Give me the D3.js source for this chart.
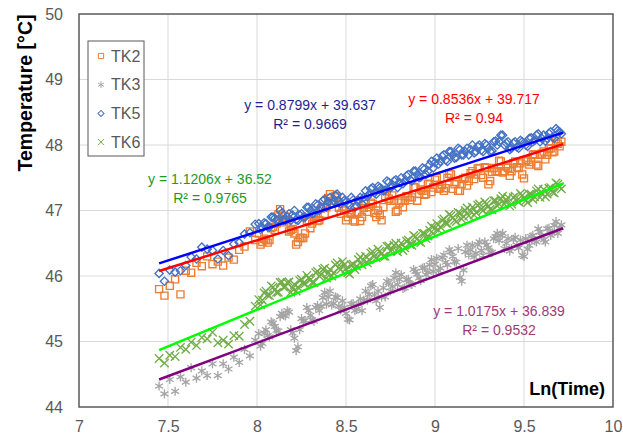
<!DOCTYPE html>
<html>
<head>
<meta charset="utf-8">
<script src="https://cdn.jsdelivr.net/npm/d3@7"></script>
<style>
	body { margin: 0; background: #fff; }
	svg { display: block; font-family: "Liberation Sans", Arial, sans-serif; }
</style>
</head>
<body>
<svg width="623" height="441"></svg>
<script>
// ln(time) sample positions, shared by all four probes
var lnTime = [
	7.45, 7.48, 7.51, 7.54, 7.57, 7.60, 7.63, 7.66, 7.69, 7.72, 7.75, 7.78, 7.81, 7.84, 7.87, 7.90, 7.93, 7.96, 7.99,
	8.01, 8.03, 8.05, 8.07, 8.09, 8.11, 8.13, 8.15, 8.17, 8.19,
	8.21, 8.23, 8.25, 8.27, 8.29, 8.31, 8.33, 8.35, 8.37, 8.39,
	8.41, 8.43, 8.45, 8.47, 8.49, 8.51, 8.53, 8.55, 8.57, 8.59,
	8.61, 8.63, 8.65, 8.67, 8.69, 8.71, 8.73, 8.75, 8.77, 8.79,
	8.81, 8.83, 8.85, 8.87, 8.89, 8.91, 8.93, 8.95, 8.97, 8.99,
	9.01, 9.03, 9.05, 9.07, 9.09, 9.11, 9.13, 9.15, 9.17, 9.19,
	9.21, 9.23, 9.25, 9.27, 9.29, 9.31, 9.33, 9.35, 9.37, 9.39,
	9.41, 9.43, 9.45, 9.47, 9.49, 9.51, 9.53, 9.55, 9.57, 9.59,
	9.61, 9.63, 9.65, 9.67, 9.69, 9.71
];
// later samples come more often, second set in between
var lnTimeB = [
	8.02, 8.04, 8.06, 8.08, 8.10, 8.12, 8.14, 8.16, 8.18, 8.20,
	8.22, 8.24, 8.26, 8.28, 8.30, 8.32, 8.34, 8.36, 8.38, 8.40,
	8.42, 8.44, 8.46, 8.48, 8.50, 8.52, 8.54, 8.56, 8.58, 8.60,
	8.62, 8.64, 8.66, 8.68, 8.70, 8.72, 8.74, 8.76, 8.78, 8.80,
	8.82, 8.84, 8.86, 8.88, 8.90, 8.92, 8.94, 8.96, 8.98, 9.00,
	9.02, 9.04, 9.06, 9.08, 9.10, 9.12, 9.14, 9.16, 9.18, 9.20,
	9.22, 9.24, 9.26, 9.28, 9.30, 9.32, 9.34, 9.36, 9.38, 9.40,
	9.42, 9.44, 9.46, 9.48, 9.50, 9.52, 9.54, 9.56, 9.58, 9.60,
	9.62, 9.64, 9.66, 9.68, 9.70
];

var tk2 = [
	45.80, 45.70, 45.85, 45.95, 45.72, 46.08, 46.05, 46.20, 46.15, 46.30, 46.18, 46.22, 46.16, 46.28, 46.25, 46.40, 46.45, 46.68, 46.55,
	46.65, 46.52, 46.55, 46.55, 46.75, 46.80, 47.02, 46.82, 46.85, 46.70,
	46.65, 46.52, 46.58, 46.65, 46.85, 46.80, 46.92, 46.85, 47.05, 47.05,
	47.25, 47.15, 47.20, 46.95, 47.00, 46.90, 46.95, 46.83, 46.97, 46.90,
	47.10, 47.05, 47.10, 46.90, 46.93, 47.05, 47.30, 47.15, 47.15, 47.00,
	47.15, 47.15, 47.20, 47.20, 47.35, 47.25, 47.30, 47.25, 47.40, 47.35,
	47.50, 47.35, 47.30, 47.50, 47.55, 47.40, 47.30, 47.40, 47.50, 47.45,
	47.60, 47.55, 47.65, 47.50, 47.65, 47.45, 47.65, 47.60, 47.75, 47.60,
	47.65, 47.60, 47.75, 47.65, 47.55, 47.75, 47.70, 47.85, 47.70, 47.85,
	47.90, 47.85, 47.95, 47.90, 48.02, 48.05
];
var tk2b = [
	46.48, 46.57, 46.51, 46.73, 46.70, 46.94, 46.86, 46.91, 46.68, 46.72,
	46.48, 46.58, 46.58, 46.83, 46.73, 46.90, 46.84, 47.03, 46.95, 47.19,
	47.11, 47.22, 47.04, 47.06, 46.85, 46.97, 46.85, 46.98, 46.84, 47.04,
	46.98, 47.12, 46.96, 47.00, 46.85, 47.22, 47.18, 47.23, 46.98, 47.12,
	47.05, 47.22, 47.16, 47.36, 47.15, 47.32, 47.24, 47.41, 47.28, 47.47,
	47.33, 47.39, 47.34, 47.56, 47.33, 47.43, 47.30, 47.48, 47.38, 47.57,
	47.48, 47.64, 47.54, 47.66, 47.40, 47.59, 47.59, 47.76, 47.58, 47.67,
	47.53, 47.72, 47.66, 47.72, 47.49, 47.77, 47.74, 47.86, 47.68, 47.87,
	47.78, 47.94, 47.89, 48.06, 47.98
];

var tk3 = [
	44.32, 44.20, 44.42, 44.24, 44.46, 44.38, 44.60, 44.44, 44.55, 44.48, 44.66, 44.48, 44.66, 44.58, 44.76, 44.68, 44.88, 44.78, 45.02,
	45.12, 44.97, 45.18, 45.07, 45.28, 45.17, 45.38, 45.40, 45.47, 45.18,
	45.05, 44.92, 45.35, 45.32, 45.47, 45.33, 45.52, 45.47, 45.67, 45.57,
	45.77, 45.58, 45.67, 45.48, 45.52, 45.34, 45.57, 45.47, 45.57, 45.47,
	45.77, 45.72, 45.87, 45.62, 45.52, 45.82, 45.92, 45.77, 45.97, 45.87,
	46.02, 45.82, 45.95, 45.87, 46.07, 45.97, 46.12, 46.02, 46.17, 46.07,
	46.27, 46.12, 46.32, 46.17, 46.37, 46.22, 46.42, 45.92, 46.37, 46.32,
	46.47, 46.35, 46.52, 46.32, 46.47, 46.37, 46.57, 46.65, 46.62, 46.42,
	46.57, 46.42, 46.59, 46.43, 46.32, 46.57, 46.47, 46.62, 46.52, 46.67,
	46.55, 46.72, 46.62, 46.77, 46.65, 46.78
];
var tk3b = [
	44.93, 45.13, 45.09, 45.30, 45.23, 45.16, 45.43, 45.39, 45.45, 45.13,
	44.86, 45.18, 45.31, 45.52, 45.40, 45.31, 45.55, 45.54, 45.75, 45.68,
	45.56, 45.68, 45.54, 45.62, 45.43, 45.33, 45.58, 45.49, 45.65, 45.63,
	45.63, 45.85, 45.71, 45.77, 45.68, 45.68, 45.90, 45.84, 46.05, 45.95,
	45.81, 45.94, 45.88, 46.10, 46.03, 45.93, 46.13, 46.06, 46.25, 46.18,
	46.08, 46.28, 46.21, 46.40, 46.30, 46.21, 45.98, 46.09, 46.47, 46.40,
	46.29, 46.48, 46.39, 46.52, 46.43, 46.36, 46.60, 46.54, 46.65, 46.50,
	46.38, 46.56, 46.47, 46.55, 46.30, 46.41, 46.60, 46.54, 46.72, 46.61,
	46.52, 46.73, 46.66, 46.83, 46.74
];

var tk5 = [
	46.04, 45.92, 46.09, 46.06, 46.08, 46.16, 46.29, 46.26, 46.44, 46.41, 46.39, 46.26, 46.39, 46.31, 46.49, 46.51, 46.64, 46.66, 46.79,
	46.80, 46.74, 46.80, 46.75, 46.90, 46.85, 47.00, 46.85, 46.90, 46.85,
	47.00, 46.85, 46.95, 46.90, 47.05, 46.95, 47.10, 47.00, 47.15, 47.05,
	47.20, 47.15, 47.25, 47.10, 47.15, 47.10, 47.20, 47.05, 47.15, 47.10,
	47.30, 47.25, 47.35, 47.25, 47.35, 47.30, 47.45, 47.35, 47.45, 47.35,
	47.50, 47.45, 47.55, 47.45, 47.60, 47.50, 47.65, 47.55, 47.70, 47.65,
	47.80, 47.75, 47.85, 47.75, 47.90, 47.80, 47.95, 47.85, 47.90, 47.85,
	48.00, 47.90, 48.00, 47.90, 48.00, 47.90, 48.05, 48.00, 48.15, 48.00,
	48.05, 47.95, 48.05, 47.95, 48.05, 48.00, 48.10, 48.05, 48.15, 48.05,
	48.15, 48.10, 48.20, 48.10, 48.22, 48.17
];
var tk5b = [
	46.71, 46.81, 46.75, 46.90, 46.88, 46.86, 46.96, 46.85, 46.95, 46.93,
	46.86, 46.93, 46.90, 47.05, 47.00, 46.96, 47.08, 47.05, 47.17, 47.13,
	47.11, 47.23, 47.15, 47.20, 47.13, 47.08, 47.16, 47.07, 47.20, 47.20,
	47.21, 47.33, 47.27, 47.37, 47.33, 47.31, 47.43, 47.37, 47.47, 47.43,
	47.41, 47.53, 47.47, 47.60, 47.55, 47.51, 47.63, 47.60, 47.75, 47.73,
	47.71, 47.83, 47.77, 47.90, 47.85, 47.81, 47.93, 47.85, 47.95, 47.93,
	47.88, 47.98, 47.92, 48.02, 47.95, 47.91, 48.06, 48.05, 48.15, 48.03,
	47.93, 48.03, 47.97, 48.07, 48.03, 47.98, 48.11, 48.07, 48.17, 48.10,
	48.06, 48.18, 48.12, 48.25, 48.20
];

var tk6 = [
	44.74, 44.67, 44.79, 44.77, 44.91, 44.88, 44.99, 44.94, 45.06, 45.04, 45.14, 44.98, 45.02, 44.96, 45.09, 45.08, 45.26, 45.31, 45.54,
	45.64, 45.63, 45.77, 45.70, 45.83, 45.75, 45.90, 45.83, 45.90, 45.75,
	45.87, 45.83, 45.95, 45.88, 45.97, 45.90, 46.05, 46.00, 46.10, 45.97,
	46.10, 46.05, 46.20, 46.10, 46.17, 46.05, 46.17, 46.10, 46.25, 46.17,
	46.30, 46.25, 46.37, 46.28, 46.38, 46.30, 46.45, 46.38, 46.47, 46.37,
	46.50, 46.43, 46.55, 46.47, 46.60, 46.53, 46.65, 46.57, 46.70, 46.65,
	46.80, 46.75, 46.87, 46.80, 46.92, 46.85, 46.97, 46.87, 47.00, 46.92,
	47.05, 46.97, 47.10, 47.00, 47.10, 47.02, 47.15, 47.07, 47.18, 47.10,
	47.20, 47.10, 47.22, 47.13, 47.23, 47.15, 47.25, 47.17, 47.30, 47.20,
	47.32, 47.25, 47.35, 47.27, 47.40, 47.33
];
var tk6b = [
	45.56, 45.74, 45.71, 45.85, 45.79, 45.75, 45.91, 45.84, 45.91, 45.81,
	45.77, 45.93, 45.89, 46.01, 45.94, 45.90, 46.07, 46.02, 46.12, 46.04,
	46.00, 46.17, 46.12, 46.22, 46.11, 46.03, 46.18, 46.15, 46.29, 46.24,
	46.20, 46.35, 46.30, 46.41, 46.34, 46.30, 46.46, 46.40, 46.50, 46.44,
	46.39, 46.53, 46.48, 46.62, 46.57, 46.51, 46.65, 46.61, 46.76, 46.73,
	46.70, 46.85, 46.81, 46.94, 46.89, 46.83, 46.96, 46.91, 47.04, 46.99,
	46.93, 47.08, 47.02, 47.13, 47.06, 47.01, 47.15, 47.10, 47.22, 47.15,
	47.07, 47.20, 47.15, 47.26, 47.19, 47.12, 47.25, 47.21, 47.33, 47.26,
	47.21, 47.34, 47.28, 47.42, 47.36
];

var seriesNames = ["TK2", "TK3", "TK5", "TK6"];
var seriesValues = [tk2, tk3, tk5, tk6];
var seriesValuesB = [tk2b, tk3b, tk5b, tk6b];
var markerColors = ["#ED7D31", "#A5A5A5", "#4472C4", "#70AD47"];

// linear trend fits as printed on the chart
var fitSlopes = [0.8536, 1.0175, 0.8799, 1.1206];
var fitIntercepts = [39.717, 36.839, 39.637, 36.52];
var fitR2 = ["0.94", "0.9532", "0.9669", "0.9765"];
var fitColors = ["#FF0000", "#800080", "#0000FF", "#00FF00"];
var labelColors = ["#FF0000", "#9E3A78", "#1F1F8F", "#1E9A1E"];

var xTicks = [7, 7.5, 8, 8.5, 9, 9.5, 10];
var yTicks = [44, 45, 46, 47, 48, 49, 50];

var svg = d3.select("svg");

var x = d3.scaleLinear().domain([7, 10]).range([79, 613]);
var y = d3.scaleLinear().domain([44, 50]).range([407, 14]);

// grid
svg.append("g")
	.selectAll("line")
	.data(xTicks.slice(1, -1))
	.enter().append("line")
	.attr("x1", function(d) { return x(d); })
	.attr("x2", function(d) { return x(d); })
	.attr("y1", y(50)).attr("y2", y(44))
	.attr("stroke", "#D9D9D9");

svg.append("g")
	.selectAll("line")
	.data(yTicks.slice(1, -1))
	.enter().append("line")
	.attr("x1", x(7)).attr("x2", x(10))
	.attr("y1", function(d) { return y(d); })
	.attr("y2", function(d) { return y(d); })
	.attr("stroke", "#D9D9D9");

// axes: only the tick labels are visible
var xAxis = svg.append("g")
	.attr("transform", "translate(0," + y(44) + ")")
	.call(d3.axisBottom(x).tickValues(xTicks).tickSize(0).tickPadding(14).tickFormat(d3.format("")));
var yAxis = svg.append("g")
	.attr("transform", "translate(" + x(7) + ",0)")
	.call(d3.axisLeft(y).tickValues(yTicks).tickSize(0).tickPadding(16).tickFormat(d3.format("d")));
[xAxis, yAxis].forEach(function(a) {
	a.select(".domain").remove();
	a.selectAll("text")
		.attr("fill", "#595959")
		.style("font-size", "16px")
		.style("font-family", "Liberation Sans, Arial, sans-serif");
});

// scatter points (TK5 diamonds are squares turned by 45 degrees)
var symbols = [d3.symbolSquare, d3.symbolAsterisk, d3.symbolSquare, d3.symbolTimes];
var sizes = [50, 58, 34, 48];
var turns = [0, 0, 45, 0];

seriesValues.forEach(function(vals, i) {
	var pts = vals.map(function(v, j) { return [lnTime[j], v]; })
		.concat(seriesValuesB[i].map(function(v, j) { return [lnTimeB[j], v]; }));
	var sym = d3.symbol().type(symbols[i]).size(sizes[i]);
	svg.append("g")
		.selectAll("path")
		.data(pts)
		.enter().append("path")
		.attr("d", sym)
		.attr("transform", function(d) { return "translate(" + x(d[0]) + "," + y(d[1]) + ") rotate(" + turns[i] + ")"; })
		.attr("fill", "none")
		.attr("stroke", markerColors[i])
		.attr("stroke-width", 1.35);
});

// trend lines
var xMin = d3.min(lnTime), xMax = 9.72;
fitSlopes.forEach(function(m, i) {
	svg.append("line")
		.attr("x1", x(xMin)).attr("y1", y(m * xMin + fitIntercepts[i]))
		.attr("x2", x(xMax)).attr("y2", y(m * xMax + fitIntercepts[i]))
		.attr("stroke", fitColors[i])
		.attr("stroke-width", 2.5);
});

// equation labels
var labelPos = [[474, 104], [499, 316], [310, 110], [210, 184]];
fitSlopes.forEach(function(m, i) {
	var t = svg.append("text")
		.attr("text-anchor", "middle")
		.attr("fill", labelColors[i])
		.style("font-size", "14px");
	t.append("tspan")
		.attr("x", labelPos[i][0]).attr("y", labelPos[i][1])
		.text("y = " + m + "x + " + fitIntercepts[i]);
	t.append("tspan")
		.attr("x", labelPos[i][0]).attr("y", labelPos[i][1] + 18.5)
		.text("R² = " + fitR2[i]);
});

// plot frame
svg.append("rect")
	.attr("x", x(7)).attr("y", y(50))
	.attr("width", x(10) - x(7)).attr("height", y(44) - y(50))
	.attr("fill", "none")
	.attr("stroke", "#595959")
	.attr("stroke-width", 1.5);

// axis titles
svg.append("text")
	.attr("transform", "translate(32,93) rotate(-90)")
	.attr("text-anchor", "middle")
	.attr("font-weight", "bold")
	.style("font-size", "19.5px")
	.text("Temperature [°C]");

svg.append("text")
	.attr("x", 605).attr("y", 395)
	.attr("text-anchor", "end")
	.attr("font-weight", "bold")
	.style("font-size", "18px")
	.text("Ln(Time)");

// legend
var legend = svg.append("g");
legend.append("rect")
	.attr("x", 88).attr("y", 41)
	.attr("width", 56).attr("height", 115)
	.attr("fill", "#fff")
	.attr("stroke", "#595959")
	.attr("stroke-width", 1);

var item = legend.selectAll("g.item")
	.data(seriesNames)
	.enter().append("g")
	.attr("class", "item")
	.attr("transform", function(d, i) { return "translate(0," + (56 + i * 28.7) + ")"; });

item.append("path")
	.attr("transform", function(d, i) { return "translate(101,0) rotate(" + turns[i] + ")"; })
	.attr("d", function(d, i) { return d3.symbol().type(symbols[i]).size(sizes[i] * 0.55)(); })
	.attr("fill", "none")
	.attr("stroke", function(d, i) { return markerColors[i]; });

item.append("text")
	.attr("x", 111).attr("y", 0)
	.attr("dy", "0.35em")
	.attr("fill", "#595959")
	.style("font-size", "16px")
	.text(function(d) { return d; });
</script>
</body>
</html>
